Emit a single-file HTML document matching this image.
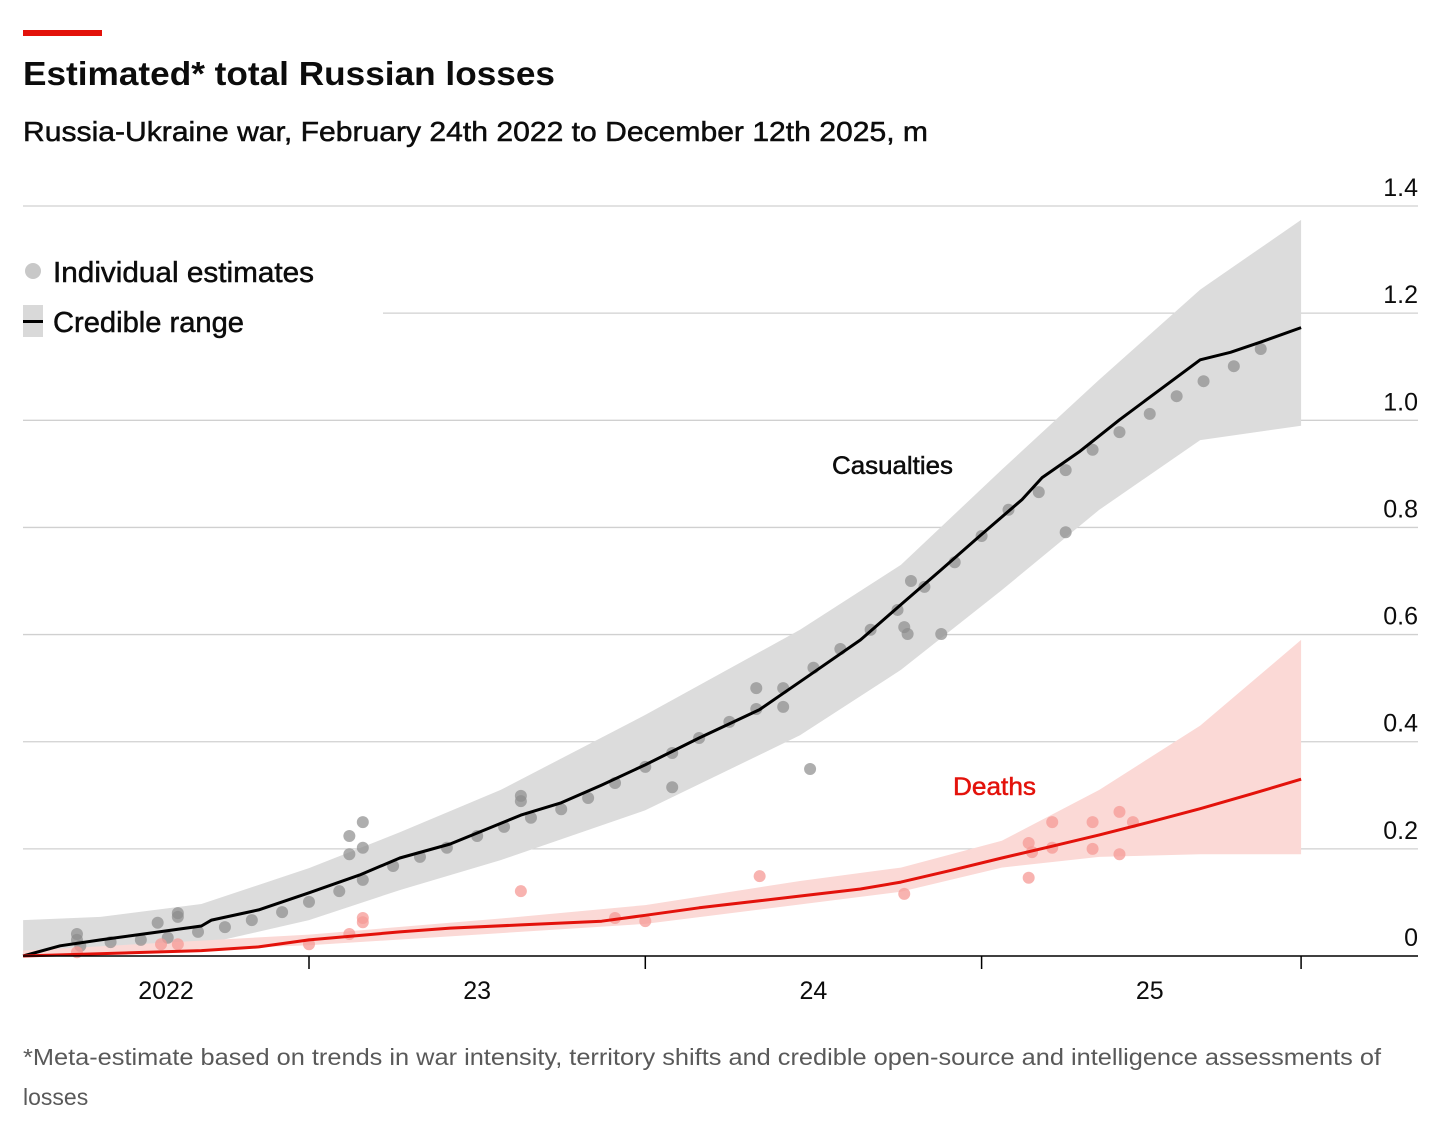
<!DOCTYPE html>
<html><head><meta charset="utf-8"><style>
html,body{margin:0;padding:0;background:#fff;}
svg{display:block;font-family:"Liberation Sans",sans-serif;}
.med{stroke:#0c0c0c;stroke-width:0.5;}
</style></head><body>
<svg id="chart" width="1456" height="1133" viewBox="0 0 1456 1133">
<rect x="23" y="30" width="79" height="6" fill="#e3120b"/>
<text x="23" y="85" font-size="33" font-weight="bold" fill="#0c0c0c" textLength="532" lengthAdjust="spacingAndGlyphs">Estimated* total Russian losses</text>
<text class="med" x="23" y="141" font-size="28" fill="#0c0c0c" textLength="905" lengthAdjust="spacingAndGlyphs">Russia-Ukraine war, February 24th 2022 to December 12th 2025, m</text>
<g id="grid"></g>
<g id="bands"></g>
<g id="dots"></g>
<g id="lines"></g>
<g id="axis"></g>
<g>
<circle cx="33" cy="271" r="8" fill="#c8c8c8"/>
<text class="med" x="53" y="282" font-size="29" fill="#0c0c0c" textLength="261" lengthAdjust="spacingAndGlyphs">Individual estimates</text>
<rect x="23" y="305" width="20" height="32" fill="#d9d9d9"/>
<rect x="23" y="320" width="20" height="3" fill="#000"/>
<text class="med" x="53" y="332" font-size="29" fill="#0c0c0c" textLength="191" lengthAdjust="spacingAndGlyphs">Credible range</text>
</g>
<text class="med" x="832" y="474" font-size="25" fill="#0c0c0c" textLength="121" lengthAdjust="spacingAndGlyphs">Casualties</text>
<text x="953" y="795" font-size="25" fill="#e3120b" stroke="#e3120b" stroke-width="0.5" textLength="83" lengthAdjust="spacingAndGlyphs">Deaths</text>
<text x="23" y="1065" font-size="23" fill="#595959" textLength="1358" lengthAdjust="spacingAndGlyphs">*Meta-estimate based on trends in war intensity, territory shifts and credible open-source and intelligence assessments of</text>
<text x="23" y="1105" font-size="23" fill="#595959">losses</text>
</svg>
<script>
const yTicks=[0,0.2,0.4,0.6,0.8,1.0,1.2,1.4];
const yTickLabels=["0","0.2","0.4","0.6","0.8","1.0","1.2","1.4"];
const xTickYears=[2022,2023,2024,2025];
const xTickLabels=["2022","23","24","25"];
const casYears=[2022.15,2022.26,2022.38,2022.53,2022.68,2022.71,2022.85,2023.00,2023.15,2023.27,2023.42,2023.63,2023.75,2023.87,2024.00,2024.16,2024.34,2024.49,2024.64,2024.76,2024.88,2025.00,2025.12,2025.18,2025.29,2025.41,2025.53,2025.65,2025.74,2025.83,2025.95];
const casValues=[0,0.019,0.030,0.043,0.056,0.067,0.086,0.118,0.151,0.183,0.209,0.263,0.286,0.319,0.357,0.407,0.460,0.525,0.590,0.656,0.721,0.787,0.852,0.893,0.941,1.001,1.057,1.113,1.127,1.146,1.173];
const casUpYears=[2022.15,2022.38,2022.68,2023.00,2023.27,2023.57,2024.00,2024.46,2024.76,2025.06,2025.35,2025.65,2025.80,2025.95];
const casUpper=[0.067,0.073,0.097,0.164,0.231,0.310,0.450,0.609,0.730,0.908,1.076,1.244,1.309,1.374];
const casLoYears=[2022.15,2022.68,2023.00,2023.27,2023.57,2024.00,2024.46,2024.76,2025.06,2025.35,2025.65,2025.95];
const casLower=[0,0.021,0.067,0.123,0.179,0.272,0.412,0.534,0.683,0.833,0.963,0.99];
const deaYears=[2022.15,2022.68,2022.85,2023.00,2023.27,2023.42,2023.63,2023.87,2024.00,2024.16,2024.34,2024.49,2024.64,2024.76,2024.91,2025.06,2025.21,2025.35,2025.50,2025.65,2025.80,2025.95];
const deaValues=[0,0.01,0.017,0.03,0.045,0.052,0.058,0.065,0.076,0.09,0.103,0.114,0.125,0.138,0.16,0.183,0.205,0.226,0.25,0.275,0.302,0.33];
const deaUpYears=[2022.15,2023.00,2023.57,2024.00,2024.46,2024.76,2025.06,2025.35,2025.65,2025.95];
const deaUpper=[0.01,0.04,0.07,0.095,0.14,0.165,0.215,0.31,0.43,0.59];
const deaLoYears=[2022.15,2023.00,2024.00,2024.76,2025.06,2025.35,2025.65,2025.95];
const deaLower=[0,0.02,0.06,0.12,0.165,0.185,0.19,0.19];
const greyDotYears=[2022.31,2022.31,2022.32,2022.41,2022.50,2022.55,2022.58,2022.61,2022.61,2022.67,2022.75,2022.83,2022.92,2023.00,2023.09,2023.12,2023.12,2023.16,2023.16,2023.16,2023.25,2023.33,2023.41,2023.50,2023.58,2023.63,2023.63,2023.66,2023.75,2023.83,2023.91,2024.00,2024.08,2024.08,2024.16,2024.25,2024.33,2024.33,2024.41,2024.41,2024.49,2024.50,2024.58,2024.67,2024.75,2024.77,2024.78,2024.79,2024.83,2024.88,2024.92,2025.00,2025.08,2025.17,2025.25,2025.25,2025.33,2025.41,2025.50,2025.58,2025.66,2025.75,2025.83];
const greyDotValues=[0.041,0.030,0.019,0.026,0.030,0.062,0.034,0.080,0.073,0.045,0.054,0.067,0.082,0.101,0.121,0.224,0.190,0.250,0.202,0.142,0.168,0.185,0.202,0.224,0.241,0.299,0.289,0.258,0.274,0.295,0.323,0.353,0.315,0.379,0.407,0.437,0.461,0.500,0.465,0.500,0.349,0.538,0.573,0.609,0.646,0.614,0.601,0.700,0.689,0.601,0.735,0.784,0.833,0.866,0.907,0.791,0.945,0.978,1.012,1.045,1.073,1.101,1.133];
const redDotYears=[2022.31,2022.56,2022.61,2023.00,2023.12,2023.16,2023.16,2023.63,2023.91,2024.00,2024.34,2024.77,2025.14,2025.14,2025.15,2025.21,2025.21,2025.33,2025.33,2025.41,2025.41,2025.45];
const redDotValues=[0.007,0.022,0.022,0.022,0.041,0.071,0.063,0.121,0.071,0.065,0.149,0.116,0.211,0.146,0.194,0.250,0.202,0.250,0.200,0.269,0.190,0.250];

const NS="http://www.w3.org/2000/svg";
const X=yr=>309+(yr-2023)*336.3;
const Y=v=>956-v*535.7;
function mk(tag,attrs,parent){const e=document.createElementNS(NS,tag);for(const k in attrs)e.setAttribute(k,attrs[k]);document.getElementById(parent).appendChild(e);return e;}
function linePath(xs,vs){return xs.map((x,i)=>(i?'L':'M')+X(x).toFixed(1)+','+Y(vs[i]).toFixed(1)).join('');}
function bandPath(ux,uv,lx,lv){let d=linePath(ux,uv);for(let i=lx.length-1;i>=0;i--)d+='L'+X(lx[i]).toFixed(1)+','+Y(lv[i]).toFixed(1);return d+'Z';}

yTicks.forEach((t,i)=>{
  if(t>0){
    const ln=mk('line',{x1:t===1.2?383:23,x2:1418,y1:Y(t),y2:Y(t),stroke:'#d0d0d0','stroke-width':1.3},'grid');
    
    
  }
  const tx=mk('text',{x:1418,y:Y(t)-10,'font-size':25,'text-anchor':'end',fill:'#0c0c0c'},'grid');
  tx.textContent=yTickLabels[i];
  
  
});

const b1=mk('path',{d:bandPath(casUpYears,casUpper,casLoYears,casLower),fill:'#dcdcdc'},'bands');


const b2=mk('path',{d:bandPath(deaUpYears,deaUpper,deaLoYears,deaLower),fill:'#fbd9d6'},'bands');



greyDotYears.forEach((x,i)=>{
  const c=mk('circle',{cx:X(x),cy:Y(greyDotValues[i]),r:6,fill:'#8c8c8c','fill-opacity':0.7},'dots');
  
  
});
redDotYears.forEach((x,i)=>{
  const c=mk('circle',{cx:X(x),cy:Y(redDotValues[i]),r:6,fill:'#f59a95','fill-opacity':0.75},'dots');
  
  
});

const l1=mk('path',{d:linePath(casYears,casValues),fill:'none',stroke:'#000','stroke-width':3,'stroke-linejoin':'round'},'lines');


const l2=mk('path',{d:linePath(deaYears,deaValues),fill:'none',stroke:'#e3120b','stroke-width':3,'stroke-linejoin':'round'},'lines');



const base=mk('line',{x1:23,x2:1418,y1:956,y2:956,stroke:'#000','stroke-width':1.5},'axis');


[2023,2024,2025,2025.95].forEach(yr=>{
  const t=mk('line',{x1:X(yr),x2:X(yr),y1:956,y2:969,stroke:'#000','stroke-width':1.5},'axis');
  
  
});
xTickYears.forEach((yr,i)=>{
  const cx=yr===2022?166:X(yr+0.5);
  const t=mk('text',{x:cx,y:999,'font-size':25,'text-anchor':'middle',fill:'#0c0c0c'},'axis');
  t.textContent=xTickLabels[i];
  
  
});
</script>
</body></html>
